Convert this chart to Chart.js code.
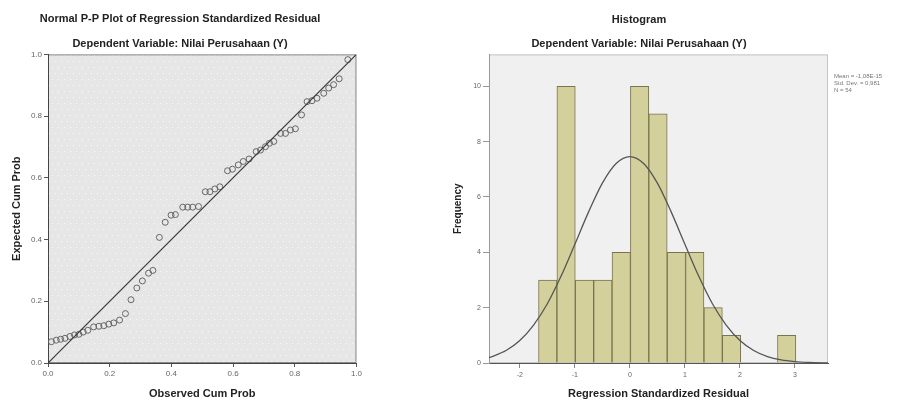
<!DOCTYPE html>
<html>
<head>
<meta charset="utf-8">
<script src="https://cdn.jsdelivr.net/npm/chart.js@4.4.1/dist/chart.umd.min.js"></script>
<style>
    html, body { margin: 0; padding: 0; background: #fff; overflow: hidden; width: 899px; height: 401px; }
    #ppBox { position: absolute; left: 0; top: 0; width: 364px; height: 401px; }
    #histBox { position: absolute; left: 450px; top: 0; width: 500px; height: 401px; }
</style>
</head>
<body>
<div id="ppBox"><canvas id="ppChart" width="364" height="401"></canvas></div>
<div id="histBox"><canvas id="histChart" width="500" height="401"></canvas></div>
<script>
// ---- Données P-P plot ----
const ppObserved = [0.011, 0.027, 0.041, 0.055, 0.071, 0.086, 0.100, 0.114, 0.129, 0.148,
                    0.165, 0.181, 0.197, 0.213, 0.232, 0.251, 0.269, 0.288, 0.306, 0.326,
                    0.340, 0.361, 0.380, 0.399, 0.413, 0.437, 0.453, 0.469, 0.488, 0.510,
                    0.525, 0.541, 0.557, 0.582, 0.598, 0.617, 0.633, 0.652, 0.675, 0.689,
                    0.705, 0.718, 0.732, 0.754, 0.770, 0.786, 0.802, 0.822, 0.840, 0.856,
                    0.872, 0.894, 0.910, 0.926, 0.944, 0.972];
const ppExpected = [0.069, 0.074, 0.077, 0.080, 0.086, 0.091, 0.093, 0.100, 0.106, 0.117,
                    0.119, 0.121, 0.126, 0.130, 0.139, 0.160, 0.205, 0.243, 0.266, 0.291,
                    0.300, 0.407, 0.456, 0.479, 0.481, 0.505, 0.505, 0.505, 0.507, 0.555,
                    0.555, 0.564, 0.571, 0.623, 0.628, 0.642, 0.653, 0.661, 0.685, 0.690,
                    0.701, 0.712, 0.718, 0.744, 0.744, 0.755, 0.759, 0.804, 0.847, 0.850,
                    0.858, 0.874, 0.891, 0.902, 0.921, 0.983];
const ppTicks = [0, 0.2, 0.4, 0.6, 0.8, 1.0];

// ---- Données histogramme ----
const binCenters  = [-1.493, -1.159, -0.825, -0.491, -0.157, 0.177, 0.511,
                     0.845, 1.179, 1.513, 1.847, 2.181, 2.515, 2.849];
const frequencies = [3, 10, 3, 3, 4, 10, 9, 4, 4, 2, 1, 0, 0, 1];
const curveX = [-2.56, -2.25, -2, -1.75, -1.5, -1.25, -1, -0.75, -0.5, -0.25, 0, 0.25, 0.5,
                0.75, 1, 1.25, 1.5, 1.75, 2, 2.25, 2.5, 2.75, 3, 3.25, 3.6];
const curveY = [0.19, 0.45, 0.81, 1.37, 2.14, 3.14, 4.29, 5.46, 6.5, 7.21, 7.46, 7.21, 6.5,
                5.46, 4.29, 3.14, 2.14, 1.37, 0.81, 0.45, 0.23, 0.11, 0.05, 0.02, 0.0];
const histXTicks = [-2, -1, 0, 1, 2, 3];
const histYTicks = [0, 2, 4, 6, 8, 10];
const statsLines = ["Mean = -1,08E-15", "Std. Dev. = 0,981", "N = 54"];

const FONT = "'Liberation Sans', Arial, sans-serif";

// ---- Fond de la zone de tracé ----
function dotPattern(ctx) {
    const c = document.createElement("canvas");
    c.width = 6; c.height = 12;
    const p = c.getContext("2d");
    p.fillStyle = "#e6e6e6";
    p.fillRect(0, 0, 6, 12);
    p.fillStyle = "#fbfbfb";
    p.fillRect(1, 1, 1, 1);
    p.fillRect(4, 7, 1, 1);
    return ctx.createPattern(c, "repeat");
}

const plotBackground = {
    id: "plotBackground",
    beforeDraw(chart, args, opts) {
        const { ctx, chartArea: a } = chart;
        ctx.save();
        ctx.fillStyle = opts.dotted ? dotPattern(ctx) : opts.color;
        ctx.fillRect(a.left, a.top, a.width, a.height);
        ctx.strokeStyle = opts.frame;
        ctx.lineWidth = 1;
        ctx.strokeRect(a.left + 0.5, a.top + 0.5, a.width - 1, a.height - 1);
        ctx.restore();
    }
};

const statsText = {
    id: "statsText",
    afterDraw(chart) {
        const { ctx, chartArea: a } = chart;
        ctx.save();
        ctx.font = "6px " + FONT;
        ctx.fillStyle = "#777";
        ctx.textBaseline = "middle";
        statsLines.forEach((t, i) => ctx.fillText(t, a.right + 6, a.top + 22 + i * 7));
        ctx.restore();
    }
};

function titleOpts(text, top) {
    return {
        display: true, text: text, color: "#222",
        font: { family: FONT, size: 11, weight: "bold" },
        padding: { top: top, bottom: 4 }
    };
}

function fixedTicks(values) {
    return scale => { scale.ticks = values.map(v => ({ value: v })); };
}

// ---- Normal P-P Plot ----
new Chart(document.getElementById("ppChart"), {
    type: "scatter",
    data: {
        datasets: [
            {
                type: "line",
                data: [{ x: 0, y: 0 }, { x: 1, y: 1 }],
                borderColor: "#3a3a3a",
                borderWidth: 1.2,
                pointRadius: 0,
                order: 0
            },
            {
                data: ppObserved.map((x, i) => ({ x: x, y: ppExpected[i] })),
                pointRadius: 3,
                pointBorderColor: "#666",
                pointBackgroundColor: "rgba(0,0,0,0)",
                pointBorderWidth: 1,
                order: 1
            }
        ]
    },
    options: {
        responsive: false,
        animation: false,
        layout: { padding: { left: 0, right: 4, top: 0, bottom: 0 } },
        plugins: {
            legend: { display: false },
            tooltip: { enabled: false },
            title: titleOpts("Normal P-P Plot of Regression Standardized Residual", 12),
            subtitle: titleOpts("Dependent Variable: Nilai Perusahaan (Y)", 8),
            plotBackground: { dotted: true, frame: "#8a8a8a" }
        },
        scales: {
            x: {
                type: "linear", min: 0, max: 1,
                afterBuildTicks: fixedTicks(ppTicks),
                afterFit: s => { s.height = 38; },
                ticks: { color: "#666", font: { family: FONT, size: 8 }, padding: 2,
                         maxRotation: 0, autoSkip: false, callback: v => v.toFixed(1) },
                grid: { drawOnChartArea: false, tickLength: 4, color: "#555" },
                border: { color: "#444" },
                title: { display: true, text: "Observed Cum Prob", color: "#222",
                         font: { family: FONT, size: 11, weight: "bold" }, padding: 0 }
            },
            y: {
                type: "linear", min: 0, max: 1,
                afterBuildTicks: fixedTicks(ppTicks),
                afterFit: s => { s.width = 48; },
                ticks: { color: "#666", font: { family: FONT, size: 8 }, padding: 2,
                         autoSkip: false, callback: v => v.toFixed(1) },
                grid: { drawOnChartArea: false, tickLength: 4, color: "#555" },
                border: { color: "#444" },
                title: { display: true, text: "Expected Cum Prob", color: "#222",
                         font: { family: FONT, size: 11, weight: "bold" },
                         padding: { top: 10, bottom: 0 } }
            }
        }
    },
    plugins: [plotBackground]
});

// ---- Histogramme ----
new Chart(document.getElementById("histChart"), {
    type: "bar",
    data: {
        datasets: [
            {
                type: "line",
                data: curveX.map((x, i) => ({ x: x, y: curveY[i] })),
                borderColor: "#555",
                borderWidth: 1.3,
                pointRadius: 0,
                cubicInterpolationMode: "monotone",
                order: 0
            },
            {
                data: binCenters.map((x, i) => ({ x: x, y: frequencies[i] })),
                backgroundColor: "#d4d09b",
                borderColor: "#77744f",
                borderWidth: 1,
                barPercentage: 1,
                categoryPercentage: 1,
                order: 1
            }
        ]
    },
    options: {
        responsive: false,
        animation: false,
        layout: { padding: { left: 0, right: 122, top: 0, bottom: 0 } },
        plugins: {
            legend: { display: false },
            tooltip: { enabled: false },
            title: titleOpts("Histogram", 13),
            subtitle: titleOpts("Dependent Variable: Nilai Perusahaan (Y)", 7),
            plotBackground: { color: "#f0f0f0", frame: "#c4c4c4" }
        },
        scales: {
            x: {
                type: "linear", min: -2.56, max: 3.6, offset: false,
                afterBuildTicks: fixedTicks(histXTicks),
                afterFit: s => { s.height = 38; },
                ticks: { color: "#666", font: { family: FONT, size: 7 }, padding: 3,
                         maxRotation: 0, autoSkip: false },
                grid: { drawOnChartArea: false, offset: false, tickLength: 5, color: "#888" },
                border: { color: "#555" },
                title: { display: true, text: "Regression Standardized Residual", color: "#222",
                         font: { family: FONT, size: 11, weight: "bold" }, padding: 0 }
            },
            y: {
                type: "linear", min: 0, max: 11.15,
                afterBuildTicks: fixedTicks(histYTicks),
                afterFit: s => { s.width = 39; },
                ticks: { color: "#666", font: { family: FONT, size: 7 }, padding: 2, autoSkip: false },
                grid: { drawOnChartArea: false, tickLength: 6, color: "#999" },
                border: { color: "#999" },
                title: { display: true, text: "Frequency", color: "#222",
                         font: { family: FONT, size: 10, weight: "bold" },
                         padding: { top: 2, bottom: 0 } }
            }
        }
    },
    plugins: [plotBackground, statsText]
});
</script>
</body>
</html>
